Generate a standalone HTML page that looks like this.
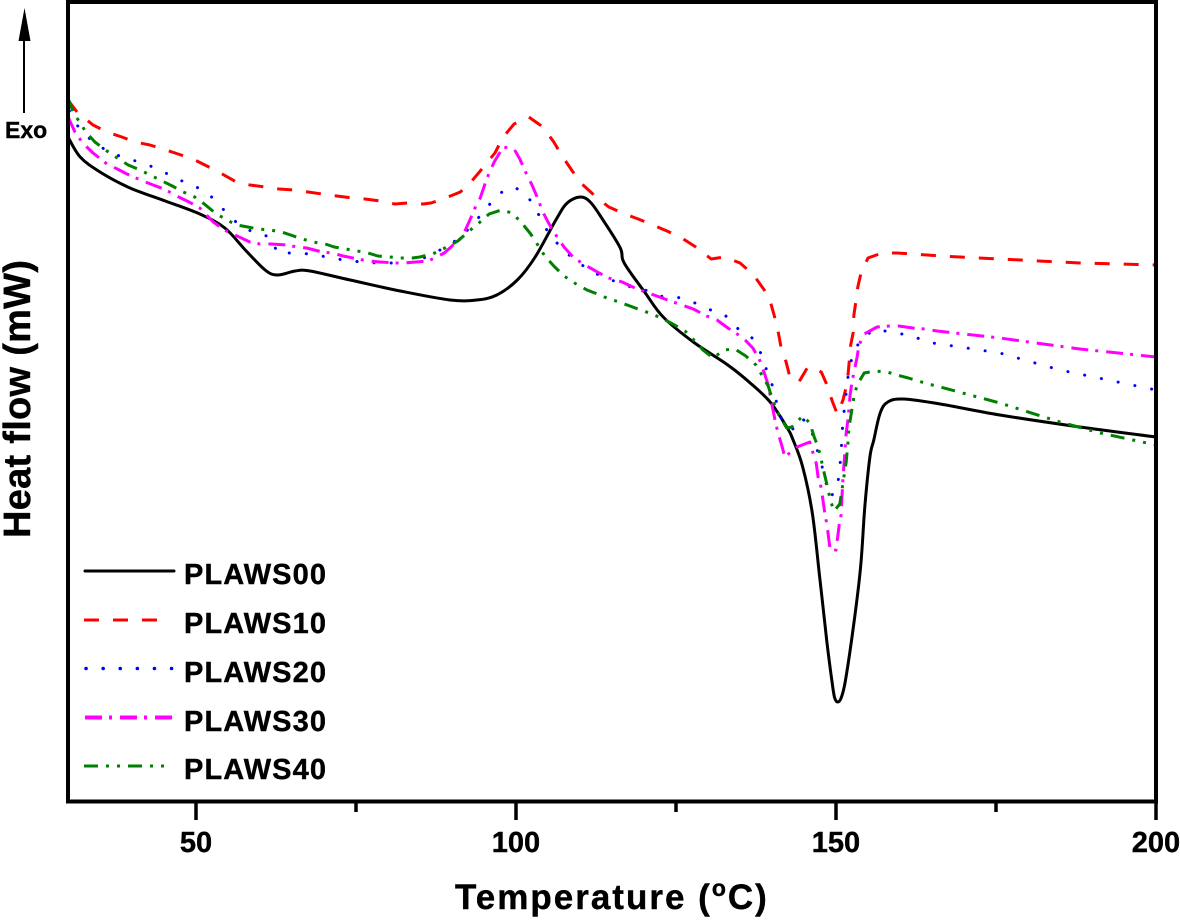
<!DOCTYPE html>
<html lang="en">
<head>
<meta charset="utf-8">
<title>DSC heat flow curves</title>
<style>
html,body{margin:0;padding:0;background:#fff;}
svg{display:block;}
text{font-family:"Liberation Sans",Arial,sans-serif;font-weight:bold;fill:#000;stroke:#000;stroke-width:0.4;}
.curve{fill:none;stroke-width:3;stroke-linejoin:round;}
</style>
</head>
<body>
<svg id="chart" xmlns="http://www.w3.org/2000/svg" width="1180" height="920" viewBox="0 0 1180 920">
  <rect x="0" y="0" width="1180" height="920" fill="#fff"/>

  <path id="curve-plaws00" class="curve" stroke="#000000"/>
  <path id="curve-plaws10" class="curve" stroke="#ff0000" stroke-dasharray="15 14"/>
  <path id="curve-plaws20" class="curve" stroke="#0000ff" stroke-width="3.5" stroke-dasharray="0.1 17" stroke-linecap="round"/>
  <path id="curve-plaws30" class="curve" stroke="#ff00ff" stroke-dasharray="17 7 3 8"/>
  <path id="curve-plaws40" class="curve" stroke="#008000" stroke-dasharray="14 8 3 8 3 8"/>

  <rect x="68" y="2" width="1088" height="799.5" fill="none" stroke="#000" stroke-width="4"/>
  <g id="x-ticks"></g>

  <text x="455" y="909" font-size="35" letter-spacing="2">Temperature (<tspan font-size="23" dy="-13">o</tspan><tspan dy="13">C)</tspan></text>
  <text transform="translate(30,538) rotate(-90)" font-size="38" textLength="278">Heat flow (mW)</text>

  <line x1="24" y1="113" x2="24" y2="38" stroke="#000" stroke-width="2"/>
  <polygon points="24.500,8 30.500,41 18.500,41" fill="#000"/>
  <text x="5" y="138" font-size="23">Exo</text>

  <g>
    <g>
      <line x1="85" y1="571" x2="174" y2="571" stroke="#000" stroke-width="3" stroke-linecap="round"/>
      <text x="184" y="584" font-size="29" letter-spacing="1.1">PLAWS00</text>
    </g>
    <g>
      <line x1="84" y1="620" x2="158" y2="620" stroke="#ff0000" stroke-width="3" stroke-dasharray="15 14"/>
      <text x="184" y="633" font-size="29" letter-spacing="1.1">PLAWS10</text>
    </g>
    <g>
      <line x1="86" y1="668.500" x2="174" y2="668.500" stroke="#0000ff" stroke-width="3.5" stroke-dasharray="0.1 17" stroke-linecap="round"/>
      <text x="184" y="682" font-size="29" letter-spacing="1.1">PLAWS20</text>
    </g>
    <g>
      <line x1="85" y1="717.500" x2="174" y2="717.500" stroke="#ff00ff" stroke-width="4" stroke-dasharray="17 7 3 8"/>
      <text x="184" y="731" font-size="29" letter-spacing="1.1">PLAWS30</text>
    </g>
    <g>
      <line x1="84" y1="766" x2="165" y2="766" stroke="#008000" stroke-width="3" stroke-dasharray="14 8 3 8 3 8"/>
      <text x="184" y="779" font-size="29" letter-spacing="1.1">PLAWS40</text>
    </g>
  </g>
</svg>

<script>
const majorTicks = [50, 100, 150, 200];
const minorTicks = [75, 125, 175];

const tempPlaws00 = [30.0,31.9,35.0,39.7,45.2,50.6,54.5,57.7,60.8,62.7,65.5,67.8,74.1,81.9,89.7,93.9,97.0,100.2,103.0,106.4,108.0,110.0,111.6,113.6,116.3,116.9,120.2,123.0,127.7,133.1,136.6,139.7,142.3,143.3,144.8,146.3,147.5,148.6,149.4,149.8,150.3,150.8,151.4,152.5,153.8,154.5,155.3,155.9,156.9,158.1,160.5,166.3,175.6,188.1,200.0];
const flowPlaws00 = [6.64,6.44,6.29,6.13,6.00,5.87,5.73,5.51,5.31,5.26,5.30,5.30,5.21,5.10,5.01,5.01,5.06,5.21,5.44,5.83,5.98,6.04,5.99,5.81,5.53,5.38,5.08,4.84,4.59,4.36,4.18,3.99,3.74,3.61,3.34,2.88,2.21,1.58,1.18,1.03,0.99,1.03,1.18,1.64,2.31,2.94,3.44,3.61,3.88,3.99,4.02,3.97,3.86,3.74,3.64];

const tempPlaws10 = [30.0,31.4,33.9,36.1,38.4,40.5,42.8,44.8,47.2,49.5,51.7,54.1,56.3,58.4,60.8,63.0,65.2,67.5,69.7,72.0,74.4,76.4,78.8,81.1,83.1,85.5,86.7,88.6,91.3,93.1,95.2,96.7,98.0,99.7,102.0,104.2,105.9,107.2,108.8,110.3,112.7,114.5,117.0,119.1,121.4,123.6,125.9,128.1,130.5,132.6,135.0,137.0,138.8,139.8,140.5,141.0,141.4,142.2,142.8,144.2,145.6,147.7,148.6,149.4,150.2,151.1,151.6,151.9,152.3,152.7,152.8,153.1,153.4,153.9,155.0,157.2,159.5,161.9,164.2,166.3,175.6,188.1,200.0];
const flowPlaws10 = [7.01,6.89,6.76,6.69,6.64,6.59,6.56,6.52,6.47,6.42,6.35,6.27,6.19,6.16,6.14,6.12,6.11,6.09,6.07,6.05,6.03,6.02,6.00,5.97,5.98,5.97,5.98,6.02,6.09,6.20,6.36,6.48,6.64,6.77,6.84,6.74,6.59,6.45,6.30,6.17,6.03,5.94,5.87,5.82,5.76,5.70,5.63,5.54,5.42,5.44,5.38,5.27,5.11,4.98,4.82,4.68,4.54,4.39,4.24,4.19,4.34,4.29,4.16,4.00,3.87,4.01,4.14,4.28,4.56,4.69,4.86,4.99,5.14,5.28,5.43,5.48,5.48,5.47,5.46,5.45,5.42,5.38,5.36];

const tempPlaws20 = [30.2,31.7,33.9,36.4,38.9,41.7,44.4,47.0,49.5,52.0,54.2,56.4,59.1,61.7,62.7,65.2,67.8,70.5,73.0,75.8,78.3,80.8,83.0,85.6,89.1,91.4,93.6,95.5,97.5,99.8,101.9,103.4,104.7,106.4,108.3,110.3,112.3,114.4,116.7,118.8,121.1,123.0,125.0,127.0,128.9,130.8,132.5,133.8,135.2,136.9,138.4,139.2,140.2,140.8,141.7,143.3,144.7,146.1,146.9,147.7,148.3,149.1,150.2,150.5,150.8,150.9,151.1,151.4,151.7,152.0,152.7,154.1,156.4,158.9,161.7,164.1,175.6,185.0,200.0];
const flowPlaws20 = [6.90,6.73,6.59,6.49,6.43,6.38,6.31,6.22,6.16,6.07,5.92,5.78,5.68,5.64,5.48,5.48,5.47,5.44,5.41,5.39,5.38,5.38,5.38,5.43,5.54,5.64,5.79,5.94,6.08,6.14,6.04,5.88,5.72,5.58,5.46,5.36,5.28,5.22,5.17,5.12,5.10,5.04,5.04,5.01,4.95,4.90,4.87,4.78,4.69,4.63,4.46,4.30,4.13,3.96,3.78,3.72,3.83,3.72,3.54,3.38,3.21,3.04,3.12,3.29,3.46,3.63,3.80,3.98,4.14,4.31,4.48,4.64,4.72,4.68,4.66,4.59,4.48,4.31,4.11];

const tempPlaws30 = [30.0,31.1,32.3,33.9,36.1,37.7,39.2,41.7,43.3,45.0,47.3,48.9,50.6,52.7,54.4,56.1,58.4,60.0,61.7,64.2,65.8,67.3,69.7,71.3,73.0,75.3,76.9,78.8,81.1,82.3,86.3,88.8,91.6,92.8,93.6,94.4,95.2,95.8,96.6,98.0,99.7,100.6,101.7,102.5,103.3,104.2,105.0,105.9,107.5,108.9,110.5,113.0,114.5,116.6,118.6,120.2,122.0,124.1,125.9,127.7,129.8,131.4,133.1,135.5,137.0,138.0,138.9,139.4,140.0,140.5,140.9,141.6,142.0,143.9,145.9,146.4,146.9,147.2,147.7,148.0,148.3,148.6,149.1,150.0,150.5,150.8,150.9,151.1,151.6,151.9,152.2,152.5,153.3,153.6,154.4,156.4,158.4,159.8,162.0,163.9,165.8,175.6,188.1,200.0];
const flowPlaws30 = [6.84,6.69,6.58,6.48,6.37,6.32,6.27,6.20,6.16,6.12,6.04,5.99,5.93,5.79,5.71,5.66,5.59,5.57,5.57,5.56,5.54,5.53,5.49,5.48,5.45,5.42,5.40,5.39,5.38,5.38,5.40,5.48,5.64,5.81,5.93,6.03,6.18,6.28,6.39,6.54,6.52,6.42,6.26,6.16,6.04,5.89,5.79,5.69,5.54,5.44,5.37,5.28,5.23,5.19,5.13,5.09,5.05,5.00,4.96,4.92,4.85,4.81,4.73,4.63,4.53,4.42,4.26,4.16,3.96,3.80,3.69,3.54,3.44,3.54,3.59,3.48,3.38,3.24,3.13,2.99,2.86,2.76,2.51,2.51,2.76,2.86,3.01,3.23,3.68,3.83,4.06,4.19,4.44,4.56,4.67,4.74,4.75,4.75,4.73,4.72,4.70,4.63,4.52,4.44];

const tempPlaws40 = [30.0,30.8,31.6,32.8,34.2,36.3,37.7,39.4,41.3,42.8,44.4,46.3,48.0,49.8,51.3,53.0,54.8,56.4,58.1,59.7,61.6,63.4,64.8,66.6,68.3,70.2,71.6,73.4,75.2,76.9,78.4,80.3,81.9,83.8,85.0,87.3,89.2,90.9,92.5,94.2,95.8,97.7,99.4,100.9,102.3,103.4,104.5,105.9,107.5,109.4,111.1,112.7,114.2,116.1,117.8,119.5,121.3,123.0,124.5,126.4,127.8,129.2,130.8,132.5,134.2,135.9,137.5,138.6,139.4,140.0,140.9,142.3,143.1,144.8,145.9,146.6,147.2,147.7,148.0,148.8,149.1,149.7,150.6,151.1,151.6,151.9,152.0,152.3,152.8,153.3,154.4,156.1,158.0,159.5,161.3,164.4,166.3,175.6,185.0,191.3,200.0];
const flowPlaws40 = [7.03,6.89,6.81,6.69,6.59,6.49,6.43,6.36,6.31,6.26,6.21,6.15,6.09,6.04,5.97,5.88,5.81,5.76,5.74,5.72,5.71,5.69,5.66,5.62,5.59,5.57,5.54,5.52,5.50,5.48,5.45,5.44,5.43,5.43,5.44,5.48,5.54,5.60,5.69,5.78,5.87,5.91,5.88,5.78,5.67,5.56,5.45,5.35,5.25,5.17,5.11,5.07,5.03,4.99,4.95,4.91,4.87,4.82,4.77,4.70,4.61,4.51,4.43,4.51,4.52,4.45,4.36,4.24,4.15,4.03,3.88,3.73,3.74,3.85,3.78,3.64,3.54,3.41,3.32,3.11,3.01,2.90,2.97,3.18,3.39,3.61,3.73,3.84,4.04,4.16,4.28,4.30,4.29,4.26,4.23,4.17,4.14,3.98,3.79,3.68,3.56];

const xAxis = function (t) { return 196 + (t - 50) * 6.4; };
const yAxis = function (v) { return 801 - v * 100; };

function linePath(temps, flows) {
  return temps.map(function (t, i) {
    return (i ? 'L' : 'M') + xAxis(t).toFixed(1) + ' ' + yAxis(flows[i]).toFixed(1);
  }).join(' ');
}

function smoothPath(temps, flows) {
  const pts = temps.map(function (t, i) { return [xAxis(t), yAxis(flows[i])]; });
  let d = 'M' + pts[0][0].toFixed(1) + ' ' + pts[0][1].toFixed(1);
  for (let i = 0; i < pts.length - 1; i++) {
    const p0 = pts[Math.max(i - 1, 0)];
    const p1 = pts[i];
    const p2 = pts[i + 1];
    const p3 = pts[Math.min(i + 2, pts.length - 1)];
    const c1x = p1[0] + (p2[0] - p0[0]) / 6;
    const c1y = p1[1] + (p2[1] - p0[1]) / 6;
    const c2x = p2[0] - (p3[0] - p1[0]) / 6;
    const c2y = p2[1] - (p3[1] - p1[1]) / 6;
    d += ' C' + c1x.toFixed(1) + ' ' + c1y.toFixed(1) + ' ' + c2x.toFixed(1) + ' ' + c2y.toFixed(1) + ' ' + p2[0].toFixed(1) + ' ' + p2[1].toFixed(1);
  }
  return d;
}

document.getElementById('curve-plaws00').setAttribute('d', smoothPath(tempPlaws00, flowPlaws00));
document.getElementById('curve-plaws10').setAttribute('d', linePath(tempPlaws10, flowPlaws10));
document.getElementById('curve-plaws20').setAttribute('d', linePath(tempPlaws20, flowPlaws20));
document.getElementById('curve-plaws30').setAttribute('d', linePath(tempPlaws30, flowPlaws30));
document.getElementById('curve-plaws40').setAttribute('d', linePath(tempPlaws40, flowPlaws40));

const NS = 'http://www.w3.org/2000/svg';
const tickGroup = document.getElementById('x-ticks');

majorTicks.forEach(function (t) {
  const tick = document.createElementNS(NS, 'line');
  
  
  tick.setAttribute('x1', xAxis(t));
  tick.setAttribute('x2', xAxis(t));
  tick.setAttribute('y1', 801);
  tick.setAttribute('y2', 820);
  tick.setAttribute('stroke', '#000');
  tick.setAttribute('stroke-width', 3.5);
  tickGroup.appendChild(tick);

  const label = document.createElementNS(NS, 'text');
  
  
  label.setAttribute('x', xAxis(t));
  label.setAttribute('y', 852);
  label.setAttribute('font-size', 29);
  label.setAttribute('text-anchor', 'middle');
  label.textContent = String(t);
  tickGroup.appendChild(label);
});

minorTicks.forEach(function (t) {
  const tick = document.createElementNS(NS, 'line');
  
  
  tick.setAttribute('x1', xAxis(t));
  tick.setAttribute('x2', xAxis(t));
  tick.setAttribute('y1', 801);
  tick.setAttribute('y2', 812);
  tick.setAttribute('stroke', '#000');
  tick.setAttribute('stroke-width', 3.5);
  tickGroup.appendChild(tick);
});
</script>
</body>
</html>
